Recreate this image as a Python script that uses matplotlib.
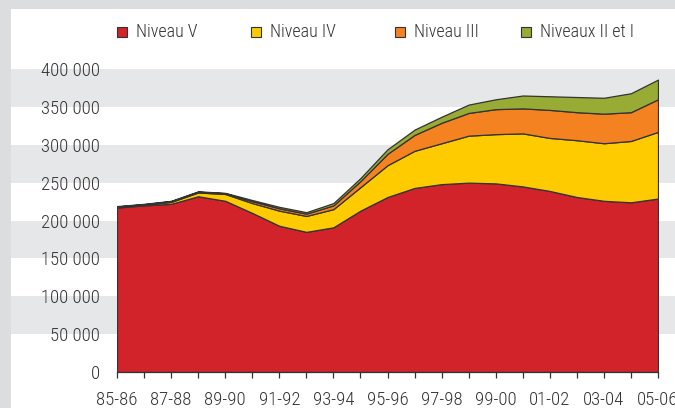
import matplotlib as mpl
mpl.use("Agg")
import matplotlib.pyplot as plt
from matplotlib.patches import Rectangle
from matplotlib.transforms import blended_transform_factory
from matplotlib.ticker import FuncFormatter
import numpy as np

plt.rcParams['font.family'] = ['Roboto Condensed', 'DejaVu Sans']
plt.rcParams['font.stretch'] = 'condensed'
plt.rcParams['font.weight'] = 'light'

years = ['85-86', '86-87', '87-88', '88-89', '89-90', '90-91', '91-92', '92-93',
         '93-94', '94-95', '95-96', '96-97', '97-98', '98-99', '99-00', '00-01',
         '01-02', '02-03', '03-04', '04-05', '05-06']

# effectifs par niveau (en milliers)
niveau_v = [217, 220, 222, 232, 226, 210, 193, 185, 191, 213, 231, 243, 248, 250,
            249, 245, 239, 231, 226, 224, 229]
niveau_iv = [1, 1, 2.5, 5, 9, 13, 20, 21, 24, 31, 42, 49, 54, 62, 65, 70, 70, 75,
             76, 81, 88]
niveau_iii = [0.5, 0.5, 1, 1, 1, 2.5, 3, 3, 5, 8, 15, 21, 27, 30, 33, 33, 37, 37,
              39, 38, 43]
niveau_ii_i = [0.5, 0.5, 0.5, 0.5, 0.5, 1.5, 2, 2, 3, 4, 6, 7, 8, 11, 13, 17, 18,
               20, 21, 25, 26]

labels = ['Niveau V', 'Niveau IV', 'Niveau III', 'Niveaux II et I']
colors = ['#D2232A', '#FECB00', '#F58220', '#97AB35']
series = [niveau_v, niveau_iv, niveau_iii, niveau_ii_i]

W, H = 675, 408
fig = plt.figure(figsize=(W / 100, H / 100), dpi=100, facecolor='#DCDDDF')
# fond blanc (cadre gris a gauche et en haut)
fig.patches.append(Rectangle((11 / W, 0), 1 - 11 / W, 1 - 9 / H, transform=fig.transFigure,
                             facecolor='white', edgecolor='none', zorder=-10))

ax = fig.add_axes([117 / W, 1 - 372 / H, (658 - 117) / W, (372 - 69) / H])
ax.patch.set_visible(False)

x = np.arange(len(years))
base = np.zeros(len(years))
for vals, c in zip(series, colors):
    top = base + np.array(vals) * 1000
    ax.fill_between(x, base, top, facecolor=c, edgecolor='#333333', linewidth=0.9, zorder=3)
    base = top

ax.set_xlim(0, len(years) - 1)
ax.set_ylim(0, 400000)

# bandes grises
tr = blended_transform_factory(fig.transFigure, ax.transData)
for y0 in range(50000, 400000, 100000):
    ax.add_patch(Rectangle((11 / W, y0), 1 - 11 / W, 50000, transform=tr,
                           facecolor='#E6E7E9', edgecolor='none', clip_on=False, zorder=0))

ax.set_yticks(range(0, 400001, 50000))
ax.yaxis.set_major_formatter(FuncFormatter(lambda v, p: '{:,}'.format(int(v)).replace(',', ' ')))
ax.tick_params(axis='y', length=0, pad=12, labelsize=13.5, labelcolor='#333333')

ax.set_xticks(x)
ax.set_xticklabels([y if i % 2 == 0 else '' for i, y in enumerate(years)])
ax.tick_params(axis='x', direction='out', length=4, width=0.9, color='#333333', pad=10,
               labelsize=13.5, labelcolor='#333333')

for s in ['top', 'right', 'left']:
    ax.spines[s].set_visible(False)
ax.spines['bottom'].set_color('#333333')
ax.spines['bottom'].set_linewidth(0.9)
ax.spines['bottom'].set_zorder(4)

# legende
leg_x = [117, 251, 395, 521]
for lx, lab, c in zip(leg_x, labels, colors):
    fig.patches.append(Rectangle((lx / W, 1 - 37 / H), 10 / W, 10 / H, transform=fig.transFigure,
                                 facecolor=c, edgecolor='#333333', linewidth=0.8))
    fig.text((lx + 19) / W, 1 - 32 / H, lab, fontsize=13, color='#333333', va='center')

fig.savefig('out.png', dpi=100, facecolor=fig.get_facecolor())
